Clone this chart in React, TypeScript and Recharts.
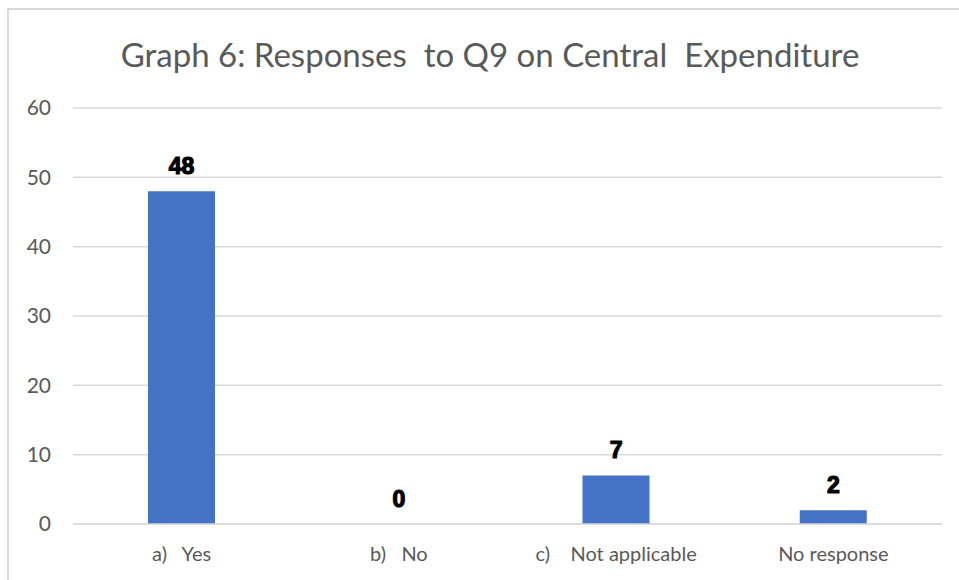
import { ComposedChart, Bar, Line, XAxis, YAxis, CartesianGrid, LabelList } from 'recharts'

const categories = ['a)\u00a0\u00a0 Yes', 'b)\u00a0\u00a0 No', 'c)\u00a0\u00a0\u00a0 Not applicable', 'No response']
const responses = [48, 0, 7, 2]
const yTicks = [0, 10, 20, 30, 40, 50, 60]

const data = categories.map((name, i) => ({ name, value: responses[i] }))

const FONT = 'Lato, "Open Sans", sans-serif'

const ValueLabel = (props: any) => {
  const { x, y, value } = props
  return (
    <text
      x={Number(x)}
      y={Number(y) - 17}
      textAnchor="middle"
      fill="#000"
      stroke="#000"
      strokeWidth={1.2}
      fontSize={23}
      fontWeight="bold"
      fontFamily='"Liberation Sans", Arial, sans-serif'
    >
      {value}
    </text>
  )
}

export default function App() {
  return (
    <div
      style={{
        position: 'absolute',
        left: 0,
        top: 0,
        width: 959,
        height: 580,
        background: '#fff',
        overflow: 'hidden',
      }}
    >
      <div
        style={{
          position: 'absolute',
          left: 7,
          top: 8,
          width: 980,
          height: 600,
          border: '2px solid #d9d9d9',
        }}
      />
      <div
        style={{
          position: 'absolute',
          left: 0,
          top: 34,
          width: 980,
          textAlign: 'center',
          fontFamily: FONT,
          fontSize: 33,
          color: '#595959',
          whiteSpace: 'pre',
        }}
      >
        Graph 6: Responses  to Q9 on Central  Expenditure
      </div>
      <div style={{ position: 'absolute', left: 0, top: 0 }}>
        <ComposedChart
          width={959}
          height={580}
          data={data}
          margin={{ top: 108, right: 17, bottom: 0, left: 0 }}
        >
          <CartesianGrid vertical={false} stroke="#d9d9d9" strokeWidth={1.5} />
          <XAxis
            dataKey="name"
            height={56}
            axisLine={{ stroke: '#d9d9d9', strokeWidth: 1.5 }}
            tickLine={false}
            tickMargin={17}
            tick={{ fill: '#595959', fontSize: 20, fontFamily: FONT }}
          />
          <YAxis
            width={73}
            domain={[0, 60]}
            ticks={yTicks}
            axisLine={false}
            tickLine={false}
            tickMargin={16}
            tick={{ fill: '#595959', fontSize: 21, fontFamily: FONT }}
          />
          <Bar dataKey="value" fill="#4472C4" barSize={67} isAnimationActive={false} />
          <Line
            dataKey="value"
            stroke="none"
            dot={false}
            activeDot={false}
            legendType="none"
            isAnimationActive={false}
          >
            <LabelList dataKey="value" content={ValueLabel} />
          </Line>
        </ComposedChart>
      </div>
    </div>
  )
}
